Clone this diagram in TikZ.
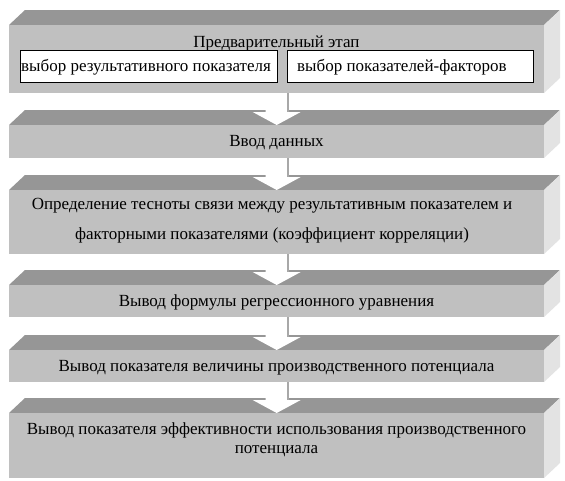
\documentclass[tikz,border=0pt]{standalone}
\usepackage{fontspec}
\setmainfont{Liberation Serif}
\usetikzlibrary{calc}
\definecolor{frontc}{HTML}{C0C0C0}
\definecolor{topc}{HTML}{969696}
\definecolor{sidec}{HTML}{E3E3E3}
\definecolor{shadc}{HTML}{A8A8A8}
\newcommand\slab[3]{%
  \fill[topc] (9,#2) -- (25,#2-15) -- (560,#2-15) -- (544,#2) -- cycle;
  \fill[sidec] (544,#2) -- (560,#2-15) -- (560,#3-15) -- (544,#3) -- cycle;
  \node[front, minimum height={(#3-#2)*1pt}] (#1) at (9,#2) {};
}
\newcommand\blkarrow[2]{%
  \fill[white] ($(#1.south)+(-11,0)$) -- ($(#2.north)+(-11,-13)$) -- ($(#2.north)+(-24,-13)$)
    -- (#2.north) -- ($(#2.north)+(24,-13)$) -- ($(#2.north)+(11,-13)$)
    -- ($(#1.south)+(11,0)$) -- cycle;
  \draw[shadc, line width=1.5pt] ($(#1.south)+(11.5,0)$) -- ($(#2.north)+(11.5,-13)$);
}
\begin{document}
\begin{tikzpicture}[x=1pt,y=-1pt,
  font=\fontsize{17}{20}\selectfont,
  front/.style={draw=none, fill=frontc, minimum width=535pt, inner sep=0pt, anchor=north west},
  choice/.style={draw=black, line width=0.9pt, fill=white, minimum height=32pt, inner sep=0pt, anchor=north west},
  label/.style={inner sep=0pt, anchor=base},
  labelw/.style={inner sep=0pt, anchor=base west}]
\useasboundingbox (0,0) rectangle (565,480);
\fill[white] (0,0) rectangle (565,480);
\slab{b1}{25}{93}
\slab{b2}{125}{158}
\slab{b3}{190}{254}
\slab{b4}{285}{317}
\slab{b5}{350}{382}
\slab{b6}{413}{478}
\node[label] (t1) at (276.5,47) {Предварительный этап};
\node[choice, minimum width=257pt] (k1) at (20,50) {};
\node[choice, minimum width=246pt] (k2) at (287,50) {};
\node[labelw] (k1t) at (21,71) {выбор результативного показателя};
\node[labelw] (k2t) at (297,71) {выбор показателей-факторов};
\node[label] (t2) at (276.5,146) {Ввод данных};
\node[label, align=center, font=\fontsize{17}{30}\selectfont] (t3) at (272,239) {Определение тесноты связи между результативным показателем и\\факторными показателями (коэффициент корреляции)};
\node[label] (t4) at (276.5,306) {Вывод формулы регрессионного уравнения};
\node[label] (t5) at (276.5,371) {Вывод показателя величины производственного потенциала};
\node[label, align=center, font=\fontsize{17}{19}\selectfont] (t6) at (276.5,453) {Вывод показателя эффективности использования производственного\\потенциала};
\blkarrow{b1}{b2}
\blkarrow{b2}{b3}
\blkarrow{b3}{b4}
\blkarrow{b4}{b5}
\blkarrow{b5}{b6}
\end{tikzpicture}
\end{document}
